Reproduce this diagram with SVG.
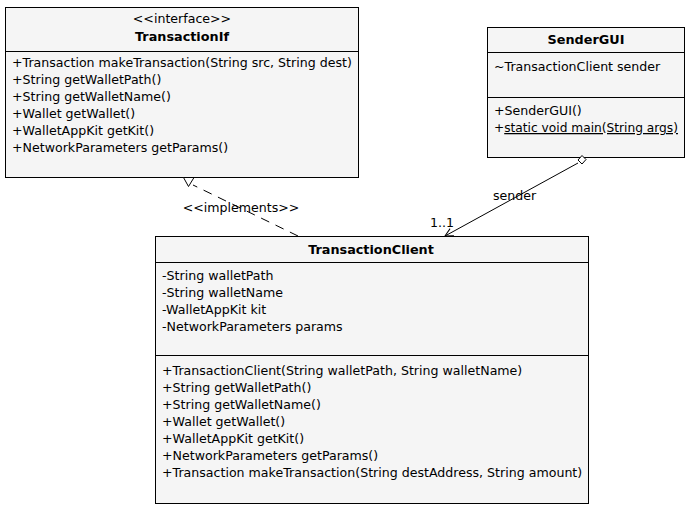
<svg xmlns="http://www.w3.org/2000/svg" width="690" height="509" viewBox="0 0 690 509">
<defs>
<style>
.box{fill:#f5f5f5;stroke:#000;stroke-width:1}
.ln{stroke:#000;stroke-width:1;fill:none}
text{font-family:"DejaVu Sans",sans-serif;font-size:12.6px;fill:#000}
.b{font-weight:bold;text-anchor:middle;font-size:12.8px}
.c{text-anchor:middle}
</style>
<marker id="open" markerWidth="10" markerHeight="10" refX="9" refY="5" orient="auto" markerUnits="userSpaceOnUse">
<path d="M1,1 L9,5 L1,9" fill="none" stroke="#000"/>
</marker>
</defs>
<rect width="690" height="509" fill="#fff"/>
<g id="TransactionIf">
<rect class="box" x="5.5" y="7.5" width="353" height="170"/>
<line class="ln" x1="5.5" y1="51.5" x2="358.5" y2="51.5"/>
<text class="c" x="182" y="23">&lt;&lt;interface&gt;&gt;</text>
<text class="b" x="182" y="41">TransactionIf</text>
<text x="12" y="67">+Transaction makeTransaction(String src, String dest)</text>
<text x="12" y="84">+String getWalletPath()</text>
<text x="12" y="101">+String getWalletName()</text>
<text x="12" y="118">+Wallet getWallet()</text>
<text x="12" y="135">+WalletAppKit getKit()</text>
<text x="12" y="152">+NetworkParameters getParams()</text>
</g>
<g id="SenderGUI">
<rect class="box" x="487.5" y="27.5" width="197" height="130"/>
<line class="ln" x1="487.5" y1="52.5" x2="684.5" y2="52.5"/>
<line class="ln" x1="487.5" y1="97.5" x2="684.5" y2="97.5"/>
<text class="b" x="586" y="44">SenderGUI</text>
<text x="494" y="71">~TransactionClient sender</text>
<text x="494" y="115">+SenderGUI()</text>
<text x="494" y="132" textLength="184" lengthAdjust="spacingAndGlyphs">+<tspan text-decoration="underline">static void main(String args)</tspan></text>
</g>
<g id="TransactionClient">
<rect class="box" x="155.5" y="236.5" width="433" height="267"/>
<line class="ln" x1="155.5" y1="262.5" x2="588.5" y2="262.5"/>
<line class="ln" x1="155.5" y1="355.5" x2="588.5" y2="355.5"/>
<text class="b" x="371" y="254">TransactionClient</text>
<text x="162" y="280">-String walletPath</text>
<text x="162" y="297">-String walletName</text>
<text x="162" y="314">-WalletAppKit kit</text>
<text x="162" y="331">-NetworkParameters params</text>
<text x="162" y="375">+TransactionClient(String walletPath, String walletName)</text>
<text x="162" y="392">+String getWalletPath()</text>
<text x="162" y="409">+String getWalletName()</text>
<text x="162" y="426">+Wallet getWallet()</text>
<text x="162" y="443">+WalletAppKit getKit()</text>
<text x="162" y="460">+NetworkParameters getParams()</text>
<text x="162" y="477">+Transaction makeTransaction(String destAddress, String amount)</text>
</g>
<g id="connectors">
<line class="ln" x1="298" y1="236" x2="193" y2="185" stroke-dasharray="9,7"/>
<polygon points="183.5,177.5 194,177.5 188.5,186.5" fill="#fff" stroke="#000"/>
<text class="c" x="241" y="212">&lt;&lt;implements&gt;&gt;</text>
<line class="ln" x1="578" y1="163" x2="445" y2="236" marker-end="url(#open)"/>
<polygon points="582,155.5 586,159.5 582,164 578,160" fill="#fff" stroke="#000"/>
<text x="493" y="200">sender</text>
<text x="430" y="227">1..1</text>
</g>
</svg>
